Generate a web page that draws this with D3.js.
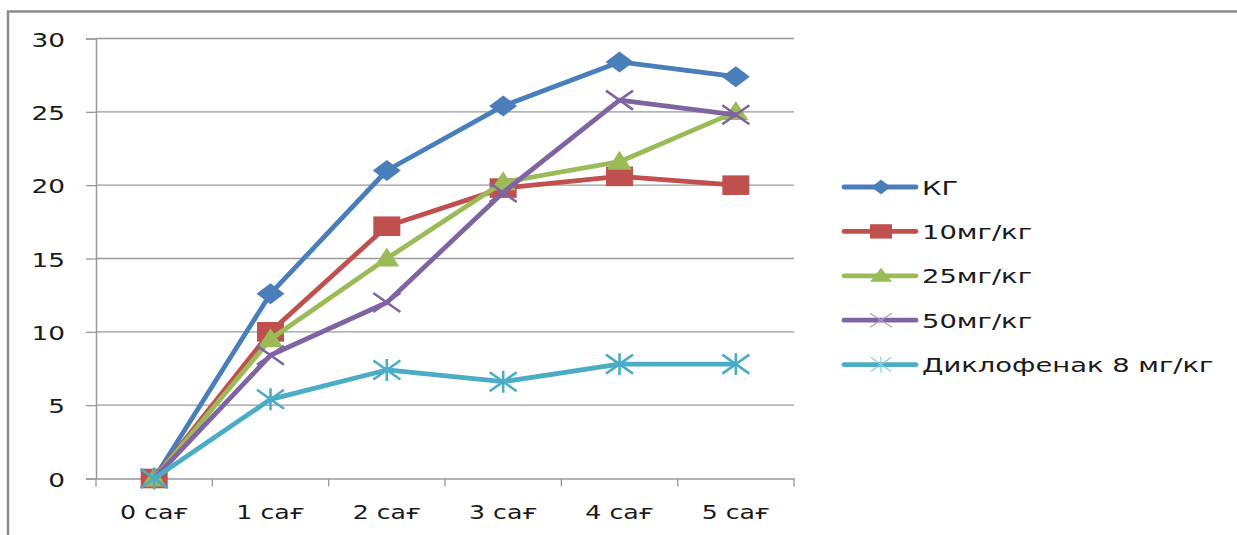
<!DOCTYPE html>
<html>
<head>
<meta charset="utf-8">
<script src="https://cdn.jsdelivr.net/npm/d3@7/dist/d3.min.js"></script>
<style>
  html, body { margin: 0; padding: 0; background: #fff; }
  svg { display: block; }
  text { font-family: "DejaVu Sans", Verdana, sans-serif; fill: #1a1a1a; }
</style>
</head>
<body>
<svg id="chart" width="1237" height="535"></svg>
<script>
// Time points (hours) and measured values per group
const categories = ["0 сағ", "1 сағ", "2 сағ", "3 сағ", "4 сағ", "5 сағ"];
const seriesNames = ["КГ", "10мг/кг", "25мг/кг", "50мг/кг", "Диклофенак 8 мг/кг"];
const kgValues = [0, 12.6, 21.0, 25.4, 28.4, 27.4];
const mg10Values = [0, 10.0, 17.2, 19.8, 20.6, 20.0];
const mg25Values = [0, 9.5, 15.0, 20.2, 21.6, 25.0];
const mg50Values = [0, 8.4, 12.0, 19.5, 25.8, 24.8];
const diclofenacValues = [0, 5.4, 7.4, 6.6, 7.8, 7.8];
const yTicks = [0, 5, 10, 15, 20, 25, 30];

const seriesColors = ["#4a7ebb", "#c0504d", "#9bbb59", "#8064a2", "#4bacc6"];
const seriesMarkers = ["diamond", "square", "triangle", "x", "star"];
const seriesValues = [kgValues, mg10Values, mg25Values, mg50Values, diclofenacValues];

const series = seriesNames.map((name, i) => ({
  name, values: seriesValues[i], color: seriesColors[i], marker: seriesMarkers[i]
}));

const svg = d3.select("#chart");
const TX = 1.36; // horizontal stretch applied to text

const plot = { left: 96, right: 794, top: 38.5, bottom: 478.5 };

const x = d3.scaleBand().domain(categories).range([plot.left, plot.right]).padding(0);
const y = d3.scaleLinear().domain([0, 30]).range([plot.bottom, plot.top]);
const cx = c => x(c) + x.bandwidth() / 2;

// outer frame
svg.append("path")
  .attr("d", "M8,540 L8,11.5 L1240,11.5")
  .attr("fill", "none").attr("stroke", "#8c8c8c").attr("stroke-width", 2.5);

// horizontal gridlines
svg.append("g").selectAll("line").data(yTicks.filter(t => t > 0)).join("line")
  .attr("x1", plot.left).attr("x2", plot.right)
  .attr("y1", d => y(d)).attr("y2", d => y(d))
  .attr("stroke", "#9a9a9a").attr("stroke-width", 1.3);

// y axis
const yAxis = svg.append("g")
  .attr("transform", `translate(${plot.left},0)`)
  .call(d3.axisLeft(y).tickValues(yTicks).tickSize(10).tickPadding(0).tickFormat(d3.format("d")));
yAxis.select(".domain").attr("stroke", "#9a9a9a").attr("stroke-width", 1.5);
yAxis.selectAll(".tick line").attr("stroke", "#9a9a9a").attr("stroke-width", 1.3);
yAxis.selectAll(".tick text")
  .attr("x", null).attr("dy", null)
  .attr("text-anchor", "end")
  .attr("dominant-baseline", "central")
  .attr("font-size", 20)
  .attr("transform", `translate(-31,1) scale(1.32,1)`);

// x axis (labels centred in bands, tick marks on band edges)
const xAxis = svg.append("g")
  .attr("transform", `translate(0,${plot.bottom})`)
  .call(d3.axisBottom(x).tickSize(0).tickPadding(0));
xAxis.select(".domain").attr("stroke", "#9a9a9a").attr("stroke-width", 1.5);
xAxis.selectAll(".tick text")
  .attr("y", null).attr("dy", null)
  .attr("font-size", 19)
  .attr("text-anchor", "middle")
  .attr("transform", `translate(0,40) scale(1.33,1)`);
const edges = categories.map(c => x(c)).concat([x(categories[categories.length - 1]) + x.bandwidth()]);
svg.append("g").selectAll("line").data(edges).join("line")
  .attr("x1", d => d).attr("x2", d => d)
  .attr("y1", plot.bottom).attr("y2", plot.bottom + 8)
  .attr("stroke", "#9a9a9a").attr("stroke-width", 1.3);

// marker drawing: w = half width, h = half height
function drawMarker(g, type, color, w, h, thin) {
  if (type === "diamond") {
    g.append("path").attr("d", `M${-w},0 L0,${-h} L${w},0 L0,${h} Z`).attr("fill", color);
  } else if (type === "square") {
    g.append("rect").attr("x", -w).attr("y", -h)
      .attr("width", w * 2).attr("height", h * 2).attr("fill", color);
  } else if (type === "triangle") {
    g.append("path").attr("d", `M0,${-h * 1.15} L${w},${h * 0.85} L${-w},${h * 0.85} Z`).attr("fill", color);
  } else if (type === "x") {
    g.append("path").attr("d", `M${-w},${-h} L${w},${h} M${-w},${h} L${w},${-h}`)
      .attr("stroke", color).attr("stroke-width", thin ? 1.2 : 2.6).attr("fill", "none");
  } else if (type === "star") {
    g.append("path").attr("d",
      `M${-w},${-h} L${w},${h} M${-w},${h} L${w},${-h} M0,${-h * 1.15} L0,${h * 1.15}`)
      .attr("stroke", color).attr("stroke-width", thin ? 1.2 : 2.6).attr("fill", "none");
  }
}

const plotMarker = {
  diamond: [14, 10.5], square: [13.5, 9.8], triangle: [12.5, 9.5], x: [13.5, 9.5], star: [13.5, 9.5]
};
const legendMarker = {
  diamond: [9.5, 7.5], square: [11, 7.2], triangle: [11, 7], x: [11, 7], star: [10, 7]
};

const line = d3.line().x((d, i) => cx(categories[i])).y(d => y(d));

const lines = svg.append("g");
series.forEach(s => {
  lines.append("path")
    .attr("d", line(s.values))
    .attr("fill", "none")
    .attr("stroke", s.color)
    .attr("stroke-width", 4.8)
    .attr("stroke-linejoin", "round")
    .attr("stroke-linecap", "round");
  s.values.forEach((v, i) => {
    const g = lines.append("g").attr("transform", `translate(${cx(categories[i])},${y(v)})`);
    const [w, h] = plotMarker[s.marker];
    drawMarker(g, s.marker, s.color, w, h, false);
  });
});

// legend
const legendX = 844, legendY0 = 187, legendStep = 44.4;
const legend = svg.append("g");
series.forEach((s, i) => {
  const ly = legendY0 + i * legendStep;
  legend.append("line")
    .attr("x1", legendX).attr("x2", legendX + 72)
    .attr("y1", ly).attr("y2", ly)
    .attr("stroke", s.color).attr("stroke-width", 4.8).attr("stroke-linecap", "round");
  const g = legend.append("g").attr("transform", `translate(${legendX + 37},${ly})`);
  const light = s.marker === "x" || s.marker === "star";
  const [w, h] = legendMarker[s.marker];
  drawMarker(g, s.marker, light ? d3.interpolateRgb(s.color, "#fff")(0.35) : s.color, w, h, light);
  legend.append("text")
    .attr("transform", `translate(${legendX + 78},${ly + 1}) scale(1.37,1)`)
    .attr("dominant-baseline", "central")
    .attr("font-size", 20)
    .text(s.name);
});
</script>
</body>
</html>
